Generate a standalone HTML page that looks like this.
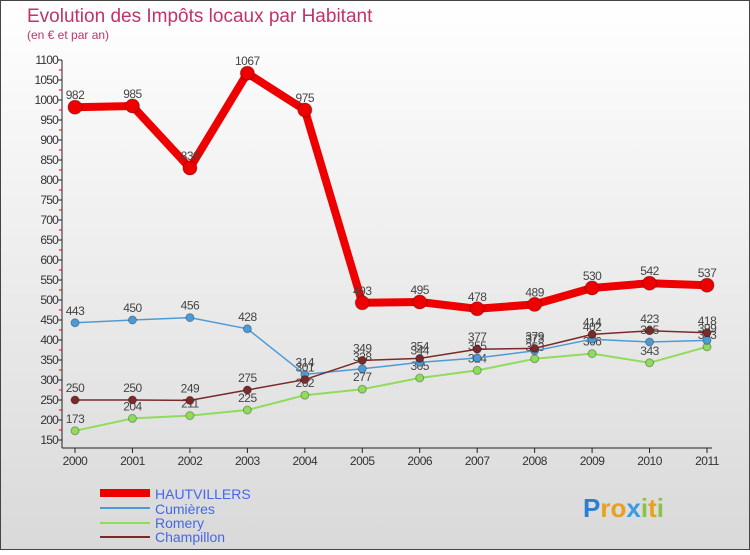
<!DOCTYPE html>
<html><head><meta charset="utf-8"><style>
body{margin:0;width:750px;height:550px;overflow:hidden;font-family:"Liberation Sans",sans-serif}
svg text{font-family:"Liberation Sans",sans-serif}
</style></head><body>
<svg id="c" width="750" height="550" xmlns="http://www.w3.org/2000/svg">
<defs><linearGradient id="bg" x1="0" y1="0" x2="0" y2="1"><stop offset="0" stop-color="#ffffff"/><stop offset="1" stop-color="#d9d9d9"/></linearGradient></defs>
<rect x="0.5" y="0.5" width="749" height="549" fill="url(#bg)" stroke="#444"/>
<text x="27" y="22" font-size="19" fill="#c0336a">Evolution des Impôts locaux par Habitant</text>
<text x="27" y="39" font-size="12" fill="#c0336a">(en € et par an)</text>
<g id="axes"></g><g id="series"></g>
<g>
<line x1="100" y1="493" x2="150" y2="493" stroke="#ee0000" stroke-width="8"/>
<text x="155" y="499" font-size="14" fill="#4466ee">HAUTVILLERS</text>
<line x1="100" y1="508" x2="150" y2="508" stroke="#4d9bd6" stroke-width="2"/>
<text x="155" y="514" font-size="14" fill="#4466ee">Cumières</text>
<line x1="100" y1="523" x2="150" y2="523" stroke="#8fdc5c" stroke-width="2"/>
<text x="155" y="528" font-size="14" fill="#4466ee">Romery</text>
<line x1="100" y1="537" x2="150" y2="537" stroke="#7a2a2a" stroke-width="2"/>
<text x="155" y="542" font-size="14" fill="#4466ee">Champillon</text>
</g>
<text x="583" y="517" font-size="26" font-weight="bold"><tspan fill="#2a7fd0">P</tspan><tspan fill="#e8a020">r</tspan><tspan fill="#e8a020">o</tspan><tspan fill="#3a9be0">x</tspan><tspan fill="#8bc34a">i</tspan><tspan fill="#e8a020">t</tspan><tspan fill="#8bc34a">i</tspan></text>
</svg>
<script>
const years=[2000,2001,2002,2003,2004,2005,2006,2007,2008,2009,2010,2011];
const hautvillers=[982,985,830,1067,975,493,495,478,489,530,542,537];
const cumieres=[443,450,456,428,314,328,344,355,373,402,395,399];
const romery=[173,204,211,225,262,277,305,324,353,366,343,383];
const champillon=[250,250,249,275,301,349,354,377,379,414,423,418];
const yTicks=[150,200,250,300,350,400,450,500,550,600,650,700,750,800,850,900,950,1000,1050,1100];
const NS="http://www.w3.org/2000/svg";
const xs=i=>75+i*(707-75)/(years.length-1);
const ys=v=>60+(1100-v)*0.4;
function mk(t,a,p){const e=document.createElementNS(NS,t);for(const k in a)e.setAttribute(k,a[k]);p.appendChild(e);return e;}
const ax=document.getElementById('axes');
const yl=mk('line',{x1:62,y1:ys(1100),x2:62,y2:ys(150)+8,stroke:'#222'},ax);


const xl=mk('line',{x1:62,y1:448,x2:712,y2:448,stroke:'#222'},ax);


yTicks.forEach(v=>{
  mk('line',{x1:58,y1:ys(v),x2:62,y2:ys(v),stroke:'#222'},ax);
  if(v<1100) mk('line',{x1:59,y1:ys(v+25),x2:62,y2:ys(v+25),stroke:'#e00'},ax);
  const t=mk('text',{x:58,y:ys(v)+4,'font-size':12,'text-anchor':'end',fill:'#333','letter-spacing':'-0.8'},ax);
  t.textContent=v;
  
  
});
years.forEach((y,i)=>{
  mk('line',{x1:xs(i),y1:448,x2:xs(i),y2:453,stroke:'#222'},ax);
  const t=mk('text',{x:xs(i),y:465,'font-size':12,'text-anchor':'middle',fill:'#333','letter-spacing':'-0.5'},ax);
  t.textContent=y;
  
  
});
const sg=document.getElementById('series');
function draw(data,color,w,r,name){
  const g=mk('g',{},sg);
  
  
  mk('polyline',{points:data.map((v,i)=>xs(i)+','+ys(v)).join(' '),fill:'none',stroke:color,'stroke-width':w,'stroke-linejoin':'round'},g);
  data.forEach((v,i)=>{
    const c=mk('circle',{cx:xs(i),cy:ys(v),r:r,fill:color,stroke:'rgba(0,0,0,0.3)','stroke-width':1},g);
    
    
    const t=mk('text',{x:xs(i),y:ys(v)-8,'font-size':12,'text-anchor':'middle',fill:'#444','letter-spacing':'-0.5'},g);
    t.textContent=v;
    
    
  });
}
draw(romery,'#8fdc5c',2,4,'romery');
draw(cumieres,'#4d9bd6',1.5,4,'cumieres');
draw(champillon,'#7a2a2a',1.5,4,'champillon');
draw(hautvillers,'#ee0000',8,7,'hautvillers');
</script>
</body></html>
